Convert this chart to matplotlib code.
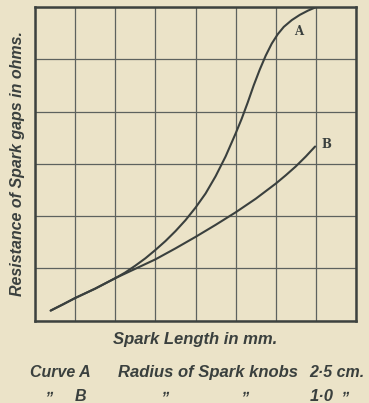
import numpy as np
import matplotlib.pyplot as plt

# Curve A (radius of spark knobs 2.5 cm), grid units
curva_a_x = [0.39, 0.7, 1.0, 1.5, 2.0, 2.25, 2.5, 2.75, 3.0, 3.25, 3.5, 3.75, 4.0, 4.25,
             4.5, 4.75, 5.0, 5.15, 5.3, 5.45, 5.6, 5.75, 5.9, 6.05, 6.2, 6.4, 6.6, 6.8, 6.98]
curva_a_y = [0.19, 0.31, 0.43, 0.61, 0.81, 0.92, 1.05, 1.19, 1.35, 1.52, 1.71, 1.92, 2.16, 2.43,
             2.76, 3.14, 3.58, 3.86, 4.17, 4.5, 4.8, 5.07, 5.3, 5.48, 5.62, 5.75, 5.85, 5.93, 5.99]

# Curve B (radius of spark knobs 1.0 cm)
curva_b_x = [0.39, 0.7, 1.0, 1.5, 2.0, 2.5, 3.0, 3.5, 4.0, 4.5, 5.0, 5.5, 6.0, 6.25, 6.5, 6.75, 6.98]
curva_b_y = [0.19, 0.31, 0.43, 0.61, 0.81, 0.99, 1.17, 1.38, 1.6, 1.83, 2.07, 2.33, 2.62, 2.78,
             2.95, 3.14, 3.33]

fondo = '#ebe3c8'
tinta = '#3a403e'

fig = plt.figure(figsize=(3.69, 4.03), dpi=100, facecolor=fondo)
ax = fig.add_axes([0.0949, 0.2047, 0.8699, 0.7779])
ax.set_facecolor(fondo)

ax.plot(curva_a_x, curva_a_y, color=tinta, lw=1.5, solid_capstyle='round', solid_joinstyle='round')
ax.plot(curva_b_x, curva_b_y, color=tinta, lw=1.5, solid_capstyle='round', solid_joinstyle='round')

ax.text(6.56, 5.54, 'A', family='DejaVu Serif', weight='bold', fontsize=8.5,
        color=tinta, ha='center', va='center')
ax.text(7.27, 3.36, 'B', family='DejaVu Serif', weight='bold', fontsize=8.5,
        color=tinta, ha='center', va='center')

ax.set_xlim(0, 8)
ax.set_ylim(0, 6)
ax.set_xticks(np.arange(0, 9, 1))
ax.set_yticks(np.arange(0, 7, 1))
ax.tick_params(length=0, labelbottom=False, labelleft=False)
ax.grid(True, color='#5d625e', lw=0.9)
for lado in ax.spines.values():
    lado.set_color('#3d423f')
    lado.set_linewidth(1.8)

fuente = dict(family='Liberation Sans', weight='bold', style='italic', color=tinta)

fig.text(17.5 / 369, 1 - 163 / 403, 'Resistance of Spark gaps in ohms.', rotation=90,
         ha='center', va='center', fontsize=11.5, **fuente)
fig.text(195 / 369, 1 - 344 / 403, 'Spark Length in mm.', ha='center', va='baseline',
         fontsize=12, **fuente)

fila1 = 1 - 377 / 403
fila2 = 1 - 401 / 403
comas = 1 - 394 / 403
fig.text(30 / 369, fila1, 'Curve A', ha='left', va='baseline', fontsize=11.5, **fuente)
fig.text(118 / 369, fila1, 'Radius of Spark knobs', ha='left', va='baseline', fontsize=12, **fuente)
fig.text(309 / 369, fila1, '2\u00b75 cm.', ha='left', va='baseline', fontsize=11.5, **fuente)
fig.text(46 / 369, comas, ',,', ha='left', va='baseline', fontsize=11, **fuente)
fig.text(75 / 369, fila2, 'B', ha='left', va='baseline', fontsize=11.5, **fuente)
fig.text(162 / 369, comas, ',,', ha='left', va='baseline', fontsize=11, **fuente)
fig.text(242 / 369, comas, ',,', ha='left', va='baseline', fontsize=11, **fuente)
fig.text(310 / 369, fila2, '1\u00b70', ha='left', va='baseline', fontsize=12, **fuente)
fig.text(342 / 369, comas, ',,', ha='left', va='baseline', fontsize=11, **fuente)

fig.savefig('out.png', dpi=100, facecolor=fondo)
